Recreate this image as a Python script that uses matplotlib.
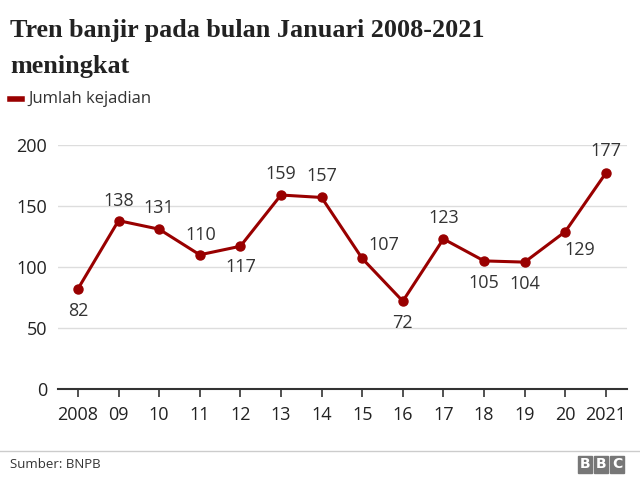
import matplotlib.pyplot as plt
from matplotlib.patches import Rectangle
from matplotlib.lines import Line2D

years = [2008, 2009, 2010, 2011, 2012, 2013, 2014, 2015, 2016, 2017, 2018, 2019, 2020, 2021]
events = [82, 138, 131, 110, 117, 159, 157, 107, 72, 123, 105, 104, 129, 177]
xlabels = ["2008", "09", "10", "11", "12", "13", "14", "15", "16", "17", "18", "19", "20", "2021"]
# label placement: (dx px, dy px)
offsets = [(0, -22), (0, 20), (0, 21), (1, 20), (0, -21), (0, 21), (0, 21),
           (22, 13), (0, -22), (0, 21), (0, -22), (0, -22), (15, -18), (0, 22)]

red = "#990000"
sans = "Open Sans"

fig = plt.figure(figsize=(6.4, 4.78), dpi=100)
ax = fig.add_axes([58/640, 1-389/478, (627-58)/640, (389-145)/478])

ax.plot(years, events, color=red, lw=2.2, marker="o", ms=6.5, clip_on=False, zorder=3)
for x, y, (dx, dy) in zip(years, events, offsets):
    ax.annotate(str(y), (x, y), xytext=(dx * 0.72, dy * 0.72), textcoords="offset points",
                ha="center", va="center", fontsize=13, family=sans, color="#333333")

ax.set_xlim(2007.51, 2021.52)
ax.set_ylim(0, 200)
ax.set_yticks([0, 50, 100, 150, 200])
ax.set_xticks(years)
ax.set_xticklabels(xlabels)
ax.yaxis.grid(True, color="#dddddd", lw=1)
ax.set_axisbelow(True)
for s in ["top", "right", "left"]:
    ax.spines[s].set_visible(False)
ax.spines["bottom"].set_color("#333333")
ax.spines["bottom"].set_linewidth(1.5)
ax.tick_params(axis="y", length=0, pad=8, labelsize=13, labelcolor="#222222")
ax.tick_params(axis="x", length=6, width=1.2, color="#333333", pad=6, labelsize=13, labelcolor="#222222")
for lab in ax.get_xticklabels() + ax.get_yticklabels():
    lab.set_family(sans)

# title
fig.text(10/640, 1-37/478, "Tren banjir pada bulan Januari 2008-2021", family="Liberation Serif",
         fontsize=18.8, fontweight="bold", color="#222222", va="baseline")
fig.text(10/640, 1-73/478, "meningkat", family="Liberation Serif", fontsize=18.8, fontweight="bold",
         color="#222222", va="baseline")

# legend
fig.add_artist(Line2D([10/640, 22/640], [1-99/478, 1-99/478], color=red, lw=4))
fig.text(28/640, 1-99/478, "Jumlah kejadian", family=sans, fontsize=12, color="#333333", va="center")

# footer
fig.add_artist(Line2D([0, 1], [1-451/478, 1-451/478], color="#cccccc", lw=1))
fig.text(10/640, 1-465/478, "Sumber: BNPB", family=sans, fontsize=9.5, color="#333333", va="center")
for i, ch in enumerate("BBC"):
    x0 = 578 + i * 16
    fig.add_artist(Rectangle((x0/640, 1-473/478), 14/640, 17/478, color="#777777", transform=fig.transFigure))
    fig.text((x0 + 7)/640, 1-464.5/478, ch, family="DejaVu Sans", fontweight="bold", fontsize=10,
             color="white", ha="center", va="center")

fig.savefig("out.png", dpi=100)
